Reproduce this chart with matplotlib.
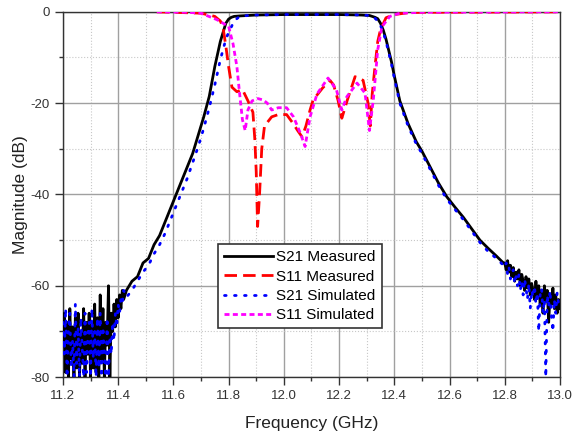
import numpy as np
import matplotlib.pyplot as plt
from matplotlib.ticker import MultipleLocator

plt.rcParams['font.family'] = ['Liberation Sans', 'DejaVu Sans']
plt.rcParams['axes.unicode_minus'] = False

# S21 measured: noisy low tail, skirts / passband, noisy high tail
s21m_low_v = [-72, -66, -79, -68, -80, -65, -76, -69, -80, -67, -78, -66, -80, -70, -77,
              -65, -80, -68, -75, -66, -80, -69, -78, -64, -79, -67, -80, -62, -76, -65,
              -80, -68, -73, -60, -80, -66, -70, -64, -69, -63, -67, -62, -65, -61, -63]
s21m_mid_f = [11.43, 11.45, 11.47, 11.49, 11.51, 11.53, 11.55, 11.57, 11.59, 11.61, 11.63,
              11.65, 11.67, 11.69, 11.71, 11.73, 11.75, 11.77, 11.79, 11.80, 11.81, 11.82,
              11.84, 11.87, 11.90, 12.00, 12.10, 12.20, 12.28, 12.31, 12.32, 12.33, 12.34,
              12.35, 12.36, 12.37, 12.38, 12.39, 12.40, 12.42, 12.45, 12.48, 12.50, 12.53,
              12.56, 12.59, 12.62, 12.65, 12.68, 12.71, 12.74, 12.77, 12.795]
s21m_mid_v = [-61, -59, -58, -55, -54, -51, -49, -46, -43, -40, -37,
              -34, -31, -27, -23, -18.5, -12, -6.5, -2.5, -1.6, -1.2, -1.0,
              -0.9, -0.8, -0.7, -0.6, -0.6, -0.6, -0.7, -0.8, -1.0, -1.2, -1.5,
              -2.5, -4, -6, -8.5, -11, -14, -19.5, -24.5, -28.5, -30.5, -34,
              -37.5, -40.5, -42.8, -45, -47.5, -50, -51.8, -53.5, -55]
s21m_high_v = [-55, -56.5, -54.5, -57, -55.5, -58, -56, -59, -57, -58.5, -56.5, -60, -57.5,
               -59, -61, -58, -60.5, -58.5, -62, -59.5, -61, -63, -59, -62.5, -60, -64,
               -61, -66, -60, -63.5, -61, -68, -62, -64, -60.5, -65, -62, -66, -63, -65]

# S21 simulated
s21s_low_v = [-68, -75, -65, -80, -70, -66, -78, -72, -80, -64, -77, -69, -80, -67, -74,
              -80, -66, -79, -71, -68, -80, -65, -76, -70, -80, -67, -78, -66, -80, -69,
              -75, -80, -67, -80, -71, -75, -68, -72, -66, -69, -64, -66, -63, -64, -61]
s21s_mid_f = [11.43, 11.45, 11.47, 11.49, 11.51, 11.53, 11.55, 11.57, 11.59, 11.61, 11.63,
              11.65, 11.67, 11.69, 11.71, 11.73, 11.75, 11.77, 11.79, 11.80, 11.81, 11.82,
              11.84, 11.87, 11.90, 12.00, 12.10, 12.20, 12.28, 12.31, 12.32, 12.33, 12.34,
              12.35, 12.36, 12.37, 12.38, 12.39, 12.40, 12.42, 12.45, 12.48, 12.50, 12.53,
              12.56, 12.59, 12.62, 12.65, 12.68, 12.71, 12.74, 12.77, 12.795]
s21s_mid_v = [-62.5, -61, -59, -57, -55.5, -53, -51, -48.5, -45.5, -42.5, -39.5,
              -36.5, -33, -29.5, -25.5, -21, -16, -10.5, -6, -4.5, -3.3, -2,
              -1, -0.8, -0.7, -0.6, -0.6, -0.6, -0.7, -0.8, -1.0, -1.4, -2.0,
              -3.0, -4.5, -6.5, -9, -11.5, -14.5, -20, -25, -29, -31, -34.5,
              -38, -41, -43.3, -45.5, -48, -50.5, -52.5, -54, -55.5]
s21s_high_v = [-56, -55, -57.5, -56, -58.5, -57, -56.5, -59.5, -58, -60, -57.5, -61, -59,
               -62, -58.5, -60.5, -63, -59.5, -65, -61, -62.5, -60, -64, -61.5, -70, -62,
               -60.5, -66, -63, -80, -62, -64.5, -61, -67, -70, -63, -66, -61.5, -64, -63]

# S11 measured
s11m_f = [11.54, 11.60, 11.70, 11.75, 11.77, 11.78, 11.79, 11.80, 11.812, 11.83, 11.85,
          11.87, 11.888, 11.895, 11.90, 11.905, 11.912, 11.92, 11.93, 11.956, 11.98,
          12.01, 12.033, 12.05, 12.066, 12.08, 12.095, 12.106, 12.14, 12.167, 12.18,
          12.196, 12.21, 12.23, 12.258, 12.287, 12.305, 12.313, 12.32, 12.33, 12.34,
          12.35, 12.37, 12.40, 12.45, 12.50, 13.0]
s11m_v = [0, -0.1, -0.3, -1, -2, -3.5, -7.5, -12, -16.5, -17.5, -17,
          -19.5, -22, -28, -35, -47, -40, -30, -25, -23, -22.5,
          -22.5, -24.4, -26, -27.4, -25, -21.5, -19.3, -16.7, -15, -16,
          -19.3, -23.3, -19.3, -14.2, -15, -20, -25, -18, -12, -6.5,
          -3.9, -1.3, -0.6, -0.2, -0.1, 0]

# S11 simulated
s11s_f = [11.54, 11.65, 11.70, 11.757, 11.80, 11.816, 11.83, 11.84, 11.85, 11.86, 11.87,
          11.885, 11.906, 11.925, 11.94, 11.956, 11.98, 12.01, 12.035, 12.06, 12.077,
          12.095, 12.12, 12.16, 12.19, 12.21, 12.228, 12.265, 12.294, 12.31, 12.324,
          12.34, 12.355, 12.384, 12.42, 12.50, 13.0]
s11s_v = [0, -0.1, -0.3, -1.7, -3.2, -7, -12, -18, -23.6, -26, -21.5,
          -19.5, -19, -19.3, -20, -21.5, -21, -21, -23, -26.6, -29.5,
          -23, -18, -14.5, -17, -21.5, -18.6, -15.6, -17.8, -26, -19.3,
          -8.3, -3.3, -1, -0.3, -0.1, 0]

low_f = np.linspace(11.2, 11.42, len(s21m_low_v))
high_f = np.linspace(12.80, 13.0, len(s21m_high_v))

s21m_f = np.concatenate([low_f, s21m_mid_f, high_f])
s21m = np.concatenate([s21m_low_v, s21m_mid_v, s21m_high_v])
s21s_f = np.concatenate([low_f, s21s_mid_f, high_f])
s21s = np.concatenate([s21s_low_v, s21s_mid_v, s21s_high_v])

fig = plt.figure(figsize=(5.72, 4.38), dpi=100)
ax = fig.add_axes([0.110, 0.139, 0.869, 0.834])

ax.plot(s21m_f, s21m, color='black', lw=2, label='S21 Measured', zorder=3)
ax.plot(s11m_f, s11m_v, color='red', lw=2, dashes=(4.5, 2.2), label='S11 Measured', zorder=3)
ax.plot(s21s_f, s21s, color='blue', lw=2, dashes=(0.6, 3.0), dash_capstyle='round',
        label='S21 Simulated', zorder=4)
ax.plot(s11s_f, s11s_v, color='magenta', lw=2, dashes=(1.8, 1.2), label='S11 Simulated',
        zorder=4)

ax.set_xlim(11.2, 13.0)
ax.set_ylim(-80, 0)
ax.xaxis.set_minor_locator(MultipleLocator(0.1))
ax.yaxis.set_major_locator(MultipleLocator(20))
ax.yaxis.set_minor_locator(MultipleLocator(10))
ax.set_xticks(np.arange(11.2, 13.01, 0.2))
ax.set_xticklabels(['11.2', '11.4', '11.6', '11.8', '12.0', '12.2', '12.4', '12.6', '12.8', '13.0'])

ax.grid(True, which='major', color='#a0a0a0', lw=1, ls='-')
ax.grid(True, which='minor', color='#c8c8c8', lw=0.8, ls=':')
ax.set_axisbelow(True)

ax.tick_params(which='major', direction='out', length=6, width=1, labelsize=9.5,
               labelcolor='#333333', color='#333333')
ax.tick_params(which='minor', direction='out', length=3, width=1, color='#333333')
for s in ax.spines.values():
    s.set_color('#333333')
    s.set_linewidth(1)

ax.set_xlabel('Frequency (GHz)', fontsize=12.5, color='#222222', labelpad=10)
ax.set_ylabel('Magnitude (dB)', fontsize=12.5, color='#222222', labelpad=2)

leg = ax.legend(loc='upper left', bbox_to_anchor=(0.312, 0.364), borderaxespad=0,
                fancybox=False, edgecolor='#333333', framealpha=1, fontsize=11,
                handlelength=3.2, handletextpad=0.2, labelspacing=0.35, borderpad=0.4)
leg.get_frame().set_linewidth(1.2)

fig.savefig('out.png', dpi=100)
